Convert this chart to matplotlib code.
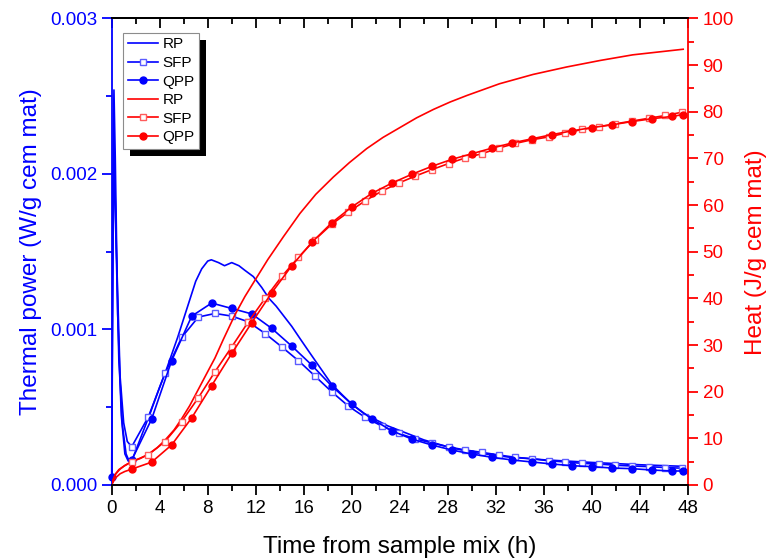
import matplotlib
matplotlib.use('Agg')
import matplotlib.pyplot as plt
from matplotlib.patches import Rectangle
from matplotlib.transforms import IdentityTransform
from matplotlib.ticker import MultipleLocator, FormatStrFormatter

# --- thermal power (W/g cem mat), left axis ---
rp_time = [0.0, 0.08, 0.19, 0.3, 0.5, 0.8, 1.1, 1.38, 1.8, 2.4, 3.2, 4.0, 4.5, 5.0, 5.5, 6.0,
           6.5, 7.0, 7.5, 8.0, 8.3, 8.9, 9.4, 10.0, 10.6, 11.1, 11.8, 12.5, 13.1, 13.7, 14.3,
           15.0, 15.7, 16.5, 17.4, 18.3, 19.2, 20.0, 21.0, 22.0, 23.0, 24.0, 26.0, 28.0, 30.0,
           33.0, 36.0, 40.0, 44.0, 47.6]
rp_power = [0.00005, 0.0018, 0.00254, 0.0021, 0.0011, 0.00045, 0.0002, 0.000154, 0.00018, 0.0003,
            0.00046, 0.00063, 0.00073, 0.00084, 0.00095, 0.00107, 0.00119, 0.00131, 0.00139,
            0.00144, 0.001448, 0.00143, 0.00141, 0.00143, 0.00141, 0.00138, 0.00134, 0.00127,
            0.0012, 0.00115, 0.00109, 0.00102, 0.00094, 0.00085, 0.00075, 0.00065, 0.00058,
            0.00052, 0.00046, 0.00042, 0.00038, 0.00035, 0.00029, 0.000245, 0.00021, 0.00018,
            0.000162, 0.000145, 0.00013, 0.00012]

qpp_time = [1.67, 3.33, 5.0, 6.67, 8.33, 10.0, 11.67, 13.33, 15.0, 16.67, 18.33, 20.0, 21.67,
            23.33, 25.0, 26.67, 28.33, 30.0, 31.67, 33.33, 35.0, 36.67, 38.33, 40.0, 41.67,
            43.33, 45.0, 46.67, 47.6]
qpp_power = [0.00016, 0.000424, 0.0008, 0.001086, 0.00117, 0.001135, 0.0011, 0.001007, 0.000893,
             0.000771, 0.000636, 0.00052, 0.000424, 0.000349, 0.000295, 0.000257, 0.000225,
             0.000199, 0.000178, 0.000161, 0.000148, 0.000135, 0.000124, 0.000118, 0.000109,
             0.000105, 0.0000963, 0.00009, 0.00009]
qpp_power_early_time = [0.0, 0.1, 0.2, 0.35, 0.6, 0.9, 1.2, 1.45]
qpp_power_early = [0.00005, 0.0016, 0.0022, 0.0016, 0.0008, 0.00038, 0.0002, 0.000155]

sfp_time = [1.67, 3.06, 4.44, 5.83, 7.22, 8.61, 10.0, 11.39, 12.78, 14.17, 15.56, 16.94, 18.33,
            19.72, 21.11, 22.5, 23.89, 25.28, 26.67, 28.06, 29.44, 30.83, 32.22, 33.61, 35.0,
            36.39, 37.78, 39.17, 40.56, 41.94, 43.33, 44.72, 46.11, 47.5]
sfp_power = [0.000246, 0.000439, 0.000717, 0.000949, 0.00108, 0.001103, 0.001086, 0.001049,
             0.000974, 0.000888, 0.000799, 0.0007, 0.000599, 0.000507, 0.000435, 0.000379,
             0.000332, 0.000297, 0.00027, 0.000245, 0.000225, 0.00021, 0.000193, 0.000178,
             0.000169, 0.000156, 0.000148, 0.000139, 0.000135, 0.000127, 0.000122, 0.000118,
             0.000112, 0.000108]
sfp_power_early_time = [0.0, 0.12, 0.22, 0.4, 0.7, 1.0, 1.3]
sfp_power_early = [0.00005, 0.0016, 0.0021, 0.0015, 0.0007, 0.0004, 0.00028]

# --- heat (J/g cem mat), right axis ---
rp_heat_time = [0.0, 0.15, 0.3, 0.6, 1.0, 1.67, 2.4, 3.05, 3.8, 4.44, 5.2, 5.83, 6.5, 7.22, 8.0,
                8.6, 9.3, 10.27, 11.1, 11.94, 13.0, 14.3, 15.68, 17.0, 18.46, 19.8, 21.24, 22.6,
                24.0, 25.4, 26.8, 28.2, 29.6, 32.3, 35.1, 37.9, 40.7, 43.4, 47.6]
rp_heat = [0.0, 1.2, 2.3, 3.3, 4.0, 5.0, 5.7, 6.6, 8.0, 9.6, 11.8, 14.2, 17.0, 20.5, 24.3, 27.2,
           31.2, 36.5, 40.4, 43.9, 48.3, 53.2, 58.2, 62.3, 66.0, 69.1, 72.1, 74.5, 76.6, 78.7,
           80.5, 82.1, 83.5, 86.0, 88.0, 89.6, 91.0, 92.2, 93.4]

qpp_heat = [3.4, 4.9, 8.6, 14.4, 21.3, 28.2, 34.8, 41.2, 47.0, 52.0, 56.2, 59.6, 62.5, 64.7,
            66.6, 68.3, 69.8, 71.0, 72.2, 73.3, 74.2, 75.1, 75.9, 76.6, 77.2, 77.9, 78.5, 79.0,
            79.4]
qpp_heat_early_time = [0.0, 0.15, 0.35, 0.7, 1.1]
qpp_heat_early = [0.0, 0.8, 1.6, 2.4, 2.9]

sfp_heat = [5.0, 6.5, 9.3, 13.6, 18.7, 24.3, 29.6, 35.0, 40.0, 44.7, 48.8, 52.6, 55.9, 58.5,
            60.9, 63.0, 64.7, 66.2, 67.6, 68.9, 70.1, 71.0, 72.2, 73.2, 74.0, 74.6, 75.4, 76.2,
            76.8, 77.4, 78.0, 78.6, 79.2, 79.9]
sfp_heat_early_time = [0.0, 0.15, 0.35, 0.7, 1.1]
sfp_heat_early = [0.0, 1.3, 2.4, 3.4, 4.2]

BLUE = '#0000ff'
RED = '#ff0000'

plt.rcParams['font.family'] = ['Liberation Sans', 'DejaVu Sans']


def marked_series(axis, t_early, v_early, t_mark, v_mark, color, marker, face, edge, label,
                  mark_first=False):
    t = list(t_early) + list(t_mark)
    v = list(v_early) + list(v_mark)
    idx = list(range(len(t_early), len(t)))
    if mark_first:
        idx = [0] + idx
    line, = axis.plot(t, v, color=color, lw=1.2, marker=marker, ms=5, mfc=face, mec=edge,
                      mew=1.0, markevery=idx, label=label)
    return line


fig = plt.figure(figsize=(7.68, 5.59), dpi=100)
ax = fig.add_axes([0.1454, 0.1324, 0.7504, 0.8346])
ax2 = ax.twinx()

h1, = ax.plot(rp_time, rp_power, color=BLUE, lw=1.2, label='RP')
h2 = marked_series(ax, sfp_power_early_time, sfp_power_early, sfp_time, sfp_power,
                   BLUE, 's', 'white', '#5c5cff', 'SFP')
h3 = marked_series(ax, qpp_power_early_time, qpp_power_early, qpp_time, qpp_power,
                   BLUE, 'o', BLUE, BLUE, 'QPP', mark_first=True)
h3.set_clip_on(False)

h4, = ax2.plot(rp_heat_time, rp_heat, color=RED, lw=1.2, label='RP')
h5 = marked_series(ax2, sfp_heat_early_time, sfp_heat_early, sfp_time, sfp_heat,
                   RED, 's', 'white', '#ff5c5c', 'SFP')
h6 = marked_series(ax2, qpp_heat_early_time, qpp_heat_early, qpp_time, qpp_heat,
                   RED, 'o', RED, RED, 'QPP')

ax.set_xlim(0, 48)
ax.set_ylim(0, 0.003)
ax2.set_ylim(0, 100)

ax.xaxis.set_major_locator(MultipleLocator(4))
ax.xaxis.set_minor_locator(MultipleLocator(2))
ax.yaxis.set_major_locator(MultipleLocator(0.001))
ax.yaxis.set_minor_locator(MultipleLocator(0.0005))
ax.yaxis.set_major_formatter(FormatStrFormatter('%.3f'))
ax2.yaxis.set_major_locator(MultipleLocator(10))
ax2.yaxis.set_minor_locator(MultipleLocator(5))

ax.tick_params(axis='x', which='both', direction='out', width=1.3, labelsize=13.5)
ax.tick_params(axis='x', which='major', length=7)
ax.tick_params(axis='x', which='minor', length=4)
ax.tick_params(axis='y', which='both', direction='out', width=1.3, colors=BLUE, labelsize=13.5)
ax.tick_params(axis='y', which='major', length=7)
ax.tick_params(axis='y', which='minor', length=4)
ax2.tick_params(axis='y', which='both', direction='out', width=1.3, colors=RED, labelsize=13.5)
ax2.tick_params(axis='y', which='major', length=7)
ax2.tick_params(axis='y', which='minor', length=4)

top = ax.secondary_xaxis('top')
top.xaxis.set_major_locator(MultipleLocator(4))
top.xaxis.set_minor_locator(MultipleLocator(2))
top.tick_params(axis='x', which='both', direction='in', width=1.3, labeltop=False)
top.tick_params(axis='x', which='major', length=7)
top.tick_params(axis='x', which='minor', length=4)
top.spines['top'].set_linewidth(1.3)

for sp in ax.spines.values():
    sp.set_linewidth(1.3)
for sp in ax2.spines.values():
    sp.set_linewidth(1.3)
ax.spines['left'].set_color(BLUE)
ax.spines['right'].set_visible(False)
ax2.spines['left'].set_visible(False)
ax2.spines['right'].set_color(RED)

ax.set_xlabel('Time from sample mix (h)', fontsize=17.5, labelpad=14)
ax.set_ylabel('Thermal power (W/g cem mat)', fontsize=17.5, color=BLUE, labelpad=6)
ax2.set_ylabel('Heat (J/g cem mat)', fontsize=17.5, color=RED, labelpad=8)

leg = ax2.legend([h1, h2, h3, h4, h5, h6], ['RP', 'SFP', 'QPP', 'RP', 'SFP', 'QPP'],
                 loc='upper left', bbox_to_anchor=(0.0196, 0.969), borderaxespad=0,
                 fancybox=False, framealpha=1, edgecolor='#8c8c8c', fontsize=11,
                 handlelength=2.0, handletextpad=0.3, labelspacing=0.3, borderpad=0.3)
leg.get_frame().set_linewidth(0.8)
leg.set_zorder(10)

# black drop shadow behind the legend box
fig.canvas.draw()
bb = leg.get_window_extent()
shadow = Rectangle((bb.x0 + 7, bb.y0 - 7), bb.width, bb.height, transform=IdentityTransform(),
                   facecolor='black', edgecolor='none', zorder=9.9, clip_on=False)
ax2.add_artist(shadow)

fig.savefig('out.png', dpi=100)
